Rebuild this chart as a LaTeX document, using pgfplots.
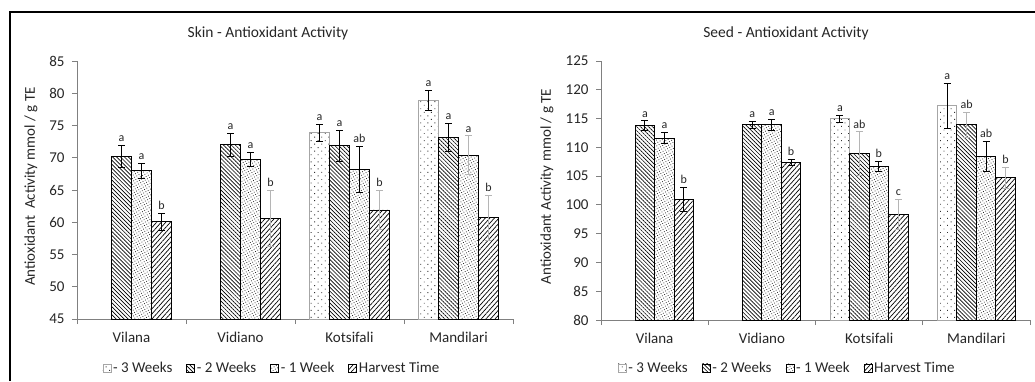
\documentclass[border=0pt]{standalone}
\usepackage{fontspec}
\setmainfont{Carlito}
\usepackage{pgfplots}
\pgfplotsset{compat=1.18}
\usetikzlibrary{patterns.meta}
\definecolor{txt}{HTML}{262626}
\definecolor{axc}{HTML}{808080}
\definecolor{lgray}{HTML}{A6A6A6}
\definecolor{egray}{HTML}{B5B5B5}
\newcommand{\fs}[1]{\fontsize{#1bp}{#1bp}\selectfont}
\tikzset{
 s3w/.style={draw=lgray, line width=0.9bp, pattern={Dots[distance=5bp, angle=45, radius=0.65bp]}, pattern color=black!80},
 s2w/.style={draw=black, line width=0.8bp, pattern={Lines[angle=-45, distance=2.8bp, line width=0.65bp]}, pattern color=black},
 s1w/.style={draw=black, line width=0.8bp, pattern={Dots[distance=2.6bp, angle=30, radius=0.55bp]}, pattern color=black!85},
 sh/.style={draw=black, line width=0.8bp, pattern={Lines[angle=48, distance=3.4bp, line width=0.7bp]}, pattern color=black},
}
\pgfplotsset{
 chart/.style={
  ybar, scale only axis, anchor=south west,
  xmin=-0.5, xmax=3.5,
  xtick={-0.5,0.5,1.5,2.5,3.5},
  x tick label as interval,
  xticklabels={Vilana,Vidiano,Kotsifali,Mandilari},
  axis x line*=bottom, axis y line*=left,
  axis line style={draw=axc, line width=0.8bp},
  tick style={draw=axc, line width=0.8bp},
  tick align=outside, major tick length=5bp,
  ytick distance=5,
  tick label style={font=\fs{15}, text=txt},
  xticklabel style={yshift=-5bp},
  yticklabel style={xshift=-4bp},
  /pgf/number format/assume math mode=true,
  legend columns=4,
  legend style={draw=none, fill=none, font=\fs{15}, text=txt, anchor=center,
    /tikz/every even column/.append style={column sep=12bp}},
  legend image code/.code={\draw[##1,/tikz/.cd, line width=0.6bp] (0bp,-4bp) rectangle (8bp,4bp);},
 },
 eb/.style={forget plot, draw=none, fill=none,
   /pgfplots/error bars/y dir=both, /pgfplots/error bars/y explicit,
   /pgfplots/error bars/error bar style={line width=0.8bp, draw=#1},
   /pgfplots/error bars/error mark options={rotate=90, mark size=3.5bp, line width=0.8bp, draw=#1}},
 lb/.style={forget plot, draw=none, fill=none, point meta=explicit symbolic, nodes near coords,
   every node near coord/.append style={font=\fs{12}, text=txt, anchor=south, inner sep=1bp, yshift=2.5bp}},
}
\begin{document}
\begin{tikzpicture}[x=1bp,y=1bp]
\useasboundingbox (0,0) rectangle (1035,381);
\draw[line width=1.2bp, black] (10,0) -- (10,369) -- (1035,369);
\node[font=\fs{15.5}, text=txt] at (268,348) {Skin - Antioxidant Activity};
\node[font=\fs{15.5}, text=txt] at (786,348) {Seed - Antioxidant Activity};
\node[rotate=90, font=\fs{15}, text=txt] at (31,194.5) {Antioxidant\ \ Activity mmol / g TE};
\node[rotate=90, font=\fs{15}, text=txt] at (547,194.5) {Antioxidant Activity mmol / g TE};

% ---------------- Skin ----------------
\begin{axis}[chart, at={(77bp,62bp)}, width=436bp, height=258bp, ymin=45, ymax=85,
  bar width=20bp, legend style={at={(0.447,-0.19)}}]
\addplot[s3w, bar shift=-30bp] coordinates {(2,73.9) (3,78.95)};
\addplot[s2w, bar shift=-10bp] coordinates {(0,70.2) (1,72.0) (2,71.9) (3,73.2)};
\addplot[s1w, bar shift=10bp] coordinates {(0,68.0) (1,69.7) (2,68.2) (3,70.4)};
\addplot[sh, bar shift=30bp] coordinates {(0,60.1) (1,60.6) (2,61.9) (3,60.7)};
\legend{- 3 Weeks,- 2 Weeks,- 1 Week,Harvest Time}
% error bars
\addplot[bar shift=-30bp, eb=black] coordinates {(2,73.9) +- (0,1.3) (3,78.95) +- (0,1.55)};
\addplot[bar shift=-10bp, eb=black] coordinates {(0,70.2) +- (0,1.7) (1,72.0) +- (0,1.85) (2,71.9) +- (0,2.4) (3,73.2) +- (0,2.15)};
\addplot[bar shift=10bp, eb=black] coordinates {(0,68.0) +- (0,1.2) (1,69.7) +- (0,1.1) (2,68.2) +- (0,3.5)};
\addplot[bar shift=10bp, eb=egray] coordinates {(3,70.4) +- (0,3.0)};
\addplot[bar shift=30bp, eb=black] coordinates {(0,60.1) +- (0,1.3)};
\addplot[bar shift=30bp, eb=egray] coordinates {(1,60.6) +- (0,4.4) (2,61.9) +- (0,3.0) (3,60.7) +- (0,3.5)};
% letters
\addplot[bar shift=-30bp, lb] coordinates {(2,75.2) [a] (3,80.5) [a]};
\addplot[bar shift=-10bp, lb] coordinates {(0,71.9) [a] (1,73.85) [a] (2,74.3) [a] (3,75.35) [a]};
\addplot[bar shift=10bp, lb] coordinates {(0,69.2) [a] (1,70.8) [a] (2,71.7) [ab] (3,73.4) [a]};
\addplot[bar shift=30bp, lb] coordinates {(0,61.4) [b] (1,65.0) [b] (2,64.9) [b] (3,64.2) [b]};
\end{axis}

% ---------------- Seed ----------------
\begin{axis}[chart, at={(601bp,61bp)}, width=429bp, height=259bp, ymin=80, ymax=125,
  bar width=19.5bp, legend style={at={(0.434,-0.185)}}]
\addplot[s3w, bar shift=-29.25bp] coordinates {(2,115.0) (3,117.2)};
\addplot[s2w, bar shift=-9.75bp] coordinates {(0,113.8) (1,113.9) (2,108.9) (3,113.9)};
\addplot[s1w, bar shift=9.75bp] coordinates {(0,111.6) (1,113.9) (2,106.7) (3,108.4)};
\addplot[sh, bar shift=29.25bp] coordinates {(0,100.95) (1,107.4) (2,98.4) (3,104.7)};
\legend{- 3 Weeks,- 2 Weeks,- 1 Week,Harvest Time}
% error bars
\addplot[bar shift=-29.25bp, eb=black] coordinates {(2,115.0) +- (0,0.6) (3,117.2) +- (0,3.9)};
\addplot[bar shift=-9.75bp, eb=black] coordinates {(0,113.8) +- (0,0.8) (1,113.9) +- (0,0.6)};
\addplot[bar shift=-9.75bp, eb=egray] coordinates {(2,108.9) +- (0,3.8) (3,113.9) +- (0,2.2)};
\addplot[bar shift=9.75bp, eb=black] coordinates {(0,111.6) +- (0,1.0) (1,113.9) +- (0,1.0) (2,106.7) +- (0,0.9) (3,108.4) +- (0,2.6)};
\addplot[bar shift=29.25bp, eb=black] coordinates {(0,100.95) +- (0,2.1) (1,107.4) +- (0,0.5)};
\addplot[bar shift=29.25bp, eb=egray] coordinates {(2,98.4) +- (0,2.6) (3,104.7) +- (0,1.8)};
% letters
\addplot[bar shift=-29.25bp, lb] coordinates {(2,115.6) [a] (3,121.1) [a]};
\addplot[bar shift=-9.75bp, lb] coordinates {(0,114.6) [a] (1,114.5) [a] (2,112.7) [ab] (3,116.1) [ab]};
\addplot[bar shift=9.75bp, lb] coordinates {(0,112.6) [a] (1,114.9) [a] (2,107.6) [b] (3,111.0) [ab]};
\addplot[bar shift=29.25bp, lb] coordinates {(0,103.05) [b] (1,107.9) [b] (2,101.0) [c] (3,106.5) [b]};
\end{axis}
\end{tikzpicture}
\end{document}
